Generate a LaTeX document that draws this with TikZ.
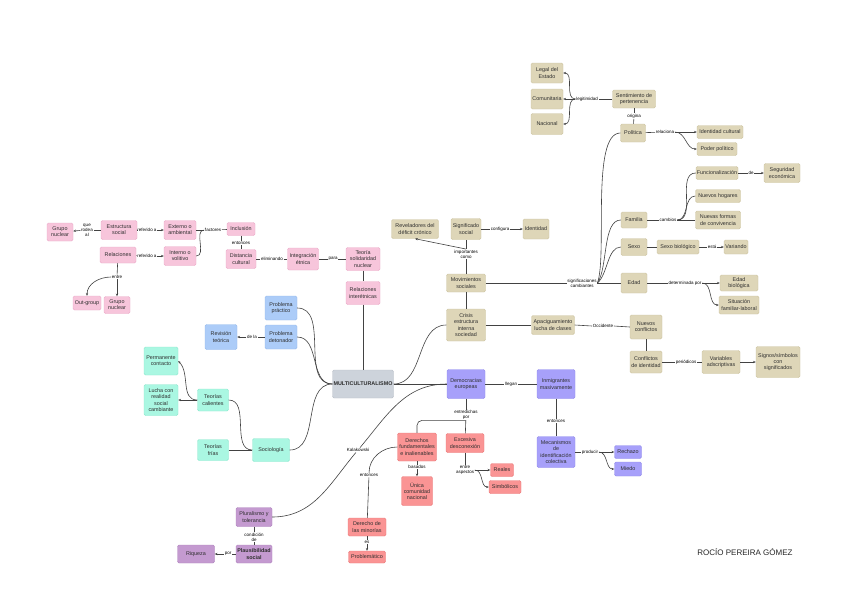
\documentclass[tikz,border=0pt]{standalone}
\usepackage{fontspec}
\setmainfont{Liberation Sans}
\usetikzlibrary{arrows.meta}
\definecolor{pinkF}{RGB}{247,197,219}\definecolor{pinkD}{RGB}{236,172,202}
\definecolor{tanF}{RGB}{222,214,184}\definecolor{tanD}{RGB}{206,197,162}
\definecolor{blueF}{RGB}{172,204,248}\definecolor{blueD}{RGB}{150,186,236}
\definecolor{mintF}{RGB}{170,247,226}\definecolor{mintD}{RGB}{140,232,206}
\definecolor{purF}{RGB}{167,160,250}\definecolor{purD}{RGB}{146,139,236}
\definecolor{redF}{RGB}{250,148,148}\definecolor{redD}{RGB}{236,122,122}
\definecolor{mauF}{RGB}{196,154,208}\definecolor{mauD}{RGB}{176,132,190}
\definecolor{grayF}{RGB}{205,211,219}\definecolor{grayD}{RGB}{186,192,201}
\definecolor{lineC}{RGB}{66,66,66}
\tikzset{
  box/.style={rounded corners=1.5pt, line width=0.4pt, align=center, inner sep=0.5pt,
    font=\fontsize{5.4}{6.2}\selectfont, text=black!82},
  wh/.style 2 args={minimum width=#1pt,minimum height=#2pt},
  pk/.style={box, fill=pinkF, draw=pinkD},
  tn/.style={box, fill=tanF, draw=tanD},
  bl/.style={box, fill=blueF, draw=blueD},
  mt/.style={box, fill=mintF, draw=mintD},
  pu/.style={box, fill=purF, draw=purD},
  rd/.style={box, fill=redF, draw=redD},
  mv/.style={box, fill=mauF, draw=mauD},
  gy/.style={box, fill=grayF, draw=grayD},
  lbl/.style={fill=white, inner sep=0.6pt, align=center, text=black,
    font=\fontsize{4.5}{5}\selectfont},
  con/.style={draw=lineC, line width=0.6pt},
  arr/.style={con, -{Stealth[length=2.8pt,width=2.3pt]}},
}
\begin{document}
\begin{tikzpicture}[x=1pt,y=-1pt]
\useasboundingbox[fill=white] (0,0) rectangle (848,606);

% ---------- pink ----------
\node[pk,wh={26}{18}] (gn1) at (60,232) {Grupo\\nuclear};
\node[pk,wh={36}{19}] (es) at (119,230) {Estructura\\social};
\node[pk,wh={32}{19}] (ex) at (180,230) {Externo o\\ambiental};
\node[pk,wh={36}{16}] (re) at (118,255) {Relaciones};
\node[pk,wh={32}{19}] (inv) at (180,256) {Interno o\\volitivo};
\node[pk,wh={28}{13}] (ic) at (241,229) {Inclusión};
\node[pk,wh={30}{19}] (dc) at (241,259) {Distancia\\cultural};
\node[pk,wh={31}{22}] (ie) at (303,259) {Integración\\étnica};
\node[pk,wh={34}{23}] (ts) at (363,259) {Teoría\\solidaridad\\nuclear};
\node[pk,wh={34}{23}] (ri) at (363,293) {Relaciones\\interétnicas};
\node[pk,wh={28}{14}] (og) at (87,303) {Out-group};
\node[pk,wh={26}{17}] (gn2) at (117,305) {Grupo\\nuclear};

\node[lbl] (l1) at (87,230) {que\\rodea\\al};
\node[lbl] (l2) at (147,230) {referido a};
\node[lbl] (l3) at (147,256) {referido a};
\node[lbl] (l4) at (213,230) {factores};
\node[lbl] (l5) at (241,243) {entonces};
\node[lbl] (l6) at (272,259) {eliminando};
\node[lbl] (l7) at (333,259) {para};
\node[lbl] (l8) at (117,277) {entre};

% ---------- gray ----------
\node[gy,wh={61}{28}] (mu) at (363,384) {\bfseries MULTICULTURALISMO};

% ---------- blue ----------
\node[bl,wh={32}{24}] (pp) at (281,308) {Problema\\práctico};
\node[bl,wh={32}{24}] (pd) at (281,337) {Problema\\detonador};
\node[bl,wh={32}{25}] (rt) at (221,337) {Revisión\\teórica};
\node[lbl] (l9) at (252,337) {de la};

% ---------- mint ----------
\node[mt,wh={34}{28}] (pc) at (161,361) {Permanente\\contacto};
\node[mt,wh={34}{31}] (lu) at (161,400) {Lucha con\\realidad\\social\\cambiante};
\node[mt,wh={31}{22}] (tc) at (213,400) {Teorías\\calientes};
\node[mt,wh={31}{21}] (tf) at (213,450) {Teorías\\frías};
\node[mt,wh={37}{23}] (so) at (271,450) {Sociología};

% ---------- tan ----------
\node[tn,wh={32}{20}] (le) at (547,73) {Legal del\\Estado};
\node[tn,wh={32}{20}] (cm) at (547,99) {Comunitaria};
\node[tn,wh={32}{21}] (na) at (547,124) {Nacional};
\node[tn,wh={43}{18}] (sp) at (634,99) {Sentimiento de\\pertenencia};
\node[tn,wh={25}{18}] (po) at (633,133) {Política};
\node[tn,wh={46}{13}] (icu) at (720,132) {Identidad cultural};
\node[tn,wh={40}{13}] (pop) at (717,149) {Poder político};
\node[lbl] (llg) at (587,99) {legitimidad};
\node[lbl] (lor) at (634,116) {origina};
\node[lbl] (lrl) at (665,132) {relaciona};

\node[tn,wh={42}{13}] (fu) at (717,173) {Funcionalización};
\node[tn,wh={36}{19}] (se) at (782,173) {Seguridad\\económica};
\node[lbl] (lde) at (751,173) {de};
\node[tn,wh={45}{13}] (nh) at (718,196) {Nuevos hogares};
\node[tn,wh={45}{18}] (nf) at (718,220) {Nuevas formas\\de convivencia};
\node[tn,wh={26}{16}] (fa) at (634,220) {Familia};
\node[lbl] (lca) at (668,220) {cambios};
\node[tn,wh={26}{17}] (sx) at (634,247) {Sexo};
\node[tn,wh={42}{14}] (sb) at (678,247) {Sexo biológico};
\node[lbl] (les) at (712,247) {está};
\node[tn,wh={24}{14}] (va) at (736,247) {Variando};
\node[tn,wh={26}{20}] (ed) at (634,283) {Edad};
\node[lbl] (ldp) at (685,283) {determinada por};
\node[tn,wh={38}{16}] (eb) at (739,283) {Edad\\biológica};
\node[tn,wh={40}{18}] (sf) at (739,305) {Situación\\familiar-laboral};

\node[tn,wh={47}{19}] (rv) at (415,229) {Reveladores del\\déficit crónico};
\node[tn,wh={30}{21}] (ss) at (466,229) {Significado\\social};
\node[tn,wh={26}{20}] (id) at (536,229) {Identidad};
\node[lbl] (lcf) at (500,229) {configura};
\node[lbl] (lic) at (466,254) {importantes\\como};
\node[tn,wh={39}{18}] (ms) at (466,283) {Movimientos\\sociales};
\node[lbl] (lsc) at (582,283) {significaciones\\cambiantes};
\node[tn,wh={39}{32}] (cr) at (466,325) {Crisis\\estructura\\interna\\sociedad};
\node[tn,wh={43}{19}] (ap) at (553,325) {Apaciguamiento\\lucha de clases};
\node[lbl] (loc) at (603,326) {Occidente};
\node[tn,wh={32}{24}] (nc) at (646,327) {Nuevos\\conflictos};
\node[tn,wh={32}{22}] (ci) at (646,362) {Conflictos\\de identidad};
\node[lbl] (lpe) at (686,362) {periódicos};
\node[tn,wh={38}{23}] (vd) at (721,362) {Variables\\adscriptivas};
\node[tn,wh={44}{31}] (sg) at (778,362) {Signos/símbolos\\con\\significados};

% ---------- purple ----------
\node[pu,wh={38}{29}] (de) at (466,384) {Democracias\\europeas};
\node[pu,wh={38}{29}] (im) at (556,384) {Inmigrantes\\masivamente};
\node[lbl] (lll) at (511,384) {llegan};
\node[lbl] (len) at (556,421) {entonces};
\node[pu,wh={38}{31}] (mc) at (556,452) {Mecanismos\\de\\identificación\\colectiva};
\node[lbl] (lpr) at (590,452) {producir};
\node[pu,wh={27}{13}] (rz) at (628,452) {Rechazo};
\node[pu,wh={27}{14}] (mi) at (628,469) {Miedo};

% ---------- red ----------
\node[lbl] (ledp) at (466,415) {entredichas\\por};
\node[rd,wh={39}{28}] (dr) at (417,447) {Derechos\\fundamentales\\e inalienables};
\node[rd,wh={38}{19}] (xd) at (465,443) {Excesiva\\desconexión};
\node[lbl] (lba) at (417,467) {basados};
\node[rd,wh={31}{29}] (uc) at (417,491) {Única\\comunidad\\nacional};
\node[lbl] (lea) at (465,470) {entre\\aspectos};
\node[rd,wh={23}{13}] (rl) at (502,470) {Reales};
\node[rd,wh={32}{13}] (sm) at (505,487) {Simbólicos};
\node[lbl] (lka) at (358,450) {Kalakowski};
\node[lbl] (len2) at (369,475) {entonces};
\node[rd,wh={38}{18}] (dm) at (367,527) {Derecho de\\las minorías};
\node[lbl] (les2) at (367,542) {es};
\node[rd,wh={37}{12}] (pb) at (367,557) {Problemático};

% ---------- mauve ----------
\node[mv,wh={36}{19}] (pt) at (254,517) {Pluralismo y\\tolerancia};
\node[lbl] (lcd) at (254,537) {condición\\de};
\node[mv,wh={36}{18}] (ps) at (254,554) {\bfseries Plausibilidad\\\bfseries social};
\node[lbl] (lpo) at (228,554) {por};
\node[mv,wh={37}{18}] (rq) at (196,554) {Riqueza};

\node[text=black!85, font=\fontsize{8}{9}\selectfont] (au) at (745,552) {ROCÍO PEREIRA GÓMEZ};

% ---------- connectors: pink ----------
\draw[con] (es) -- (l1); \draw[arr] (l1) -- (gn1);
\draw[con] (es) -- (l2); \draw[arr] (l2) -- (ex);
\draw[con] (re) -- (l3); \draw[arr] (l3) -- (inv);
\draw[con] (ex) -- (l4);
\draw[con] (inv.east) to[out=0,in=180] (l4.west);
\draw[con] (l4) -- (ic);
\draw[con] (ic) -- (l5); \draw[con] (l5) -- (dc);
\draw[con] (dc) -- (l6); \draw[con] (l6) -- (ie);
\draw[con] (ie) -- (l7); \draw[con] (l7) -- (ts);
\draw[con] (ts) -- (ri);
\draw[con] (ri) -- (mu);
\draw[con] (re) -- (l8); \draw[arr] (l8) -- (gn2);
\draw[arr] (l8.west) to[out=180,in=90] (og.north);

% ---------- blue / mint ----------
\draw[con] (pd) -- (l9); \draw[arr] (l9) -- (rt);
\draw[con] (pp.east) to[out=0,in=180] (mu.west);
\draw[con] (pd.east) to[out=0,in=180] (mu.west);
\draw[arr] (tc.west) -- (lu.east);
\draw[arr] (tc.west) to[out=180,in=-45] (pc.east);
\draw[con] (tc.east) to[out=0,in=180] (so.west);
\draw[con] (tf) -- (so);
\draw[con] (so.east) to[out=0,in=180] (mu.west);

% ---------- tan ----------
\draw[con] (sp) -- (llg);
\draw[arr] (llg.west) to[out=180,in=0] (le.east);
\draw[arr] (llg) -- (cm);
\draw[arr] (llg.west) to[out=180,in=0] (na.east);
\draw[con] (sp) -- (lor); \draw[con] (lor) -- (po);
\draw[con] (po) -- (lrl);
\draw[arr] (lrl) -- (icu);
\draw[arr] (lrl.east) to[out=0,in=180] (pop.west);

\draw[con] (ss) -- (lcf); \draw[arr] (lcf) -- (id);
\draw[con] (ms) -- (lic); \draw[con] (lic) -- (ss);
\draw[arr] (lic.north) -- (rv.south);
\draw[con] (ms) -- (lsc);
\draw[con] (lsc.east) to[out=70,in=180,looseness=0.5] (po.west);
\draw[con] (lsc.east) to[out=55,in=180,looseness=0.7] (fa.west);
\draw[con] (lsc.east) to[out=40,in=180,looseness=0.8] (sx.west);
\draw[con] (lsc.east) -- (ed.west);

\draw[con] (fa) -- (lca);
\draw[con] (lca.east) to[out=0,in=180] (fu.west);
\draw[con] (lca.east) to[out=0,in=180] (nh.west);
\draw[con] (lca.east) -- (nf.west);
\draw[con] (fu) -- (lde); \draw[arr] (lde) -- (se);
\draw[con] (sx) -- (sb); \draw[con] (sb) -- (les); \draw[arr] (les) -- (va);
\draw[con] (ed) -- (ldp); \draw[arr] (ldp) -- (eb);
\draw[arr] (ldp.east) to[out=0,in=180] (sf.west);

\draw[con] (ms) -- (cr);
\draw[con] (cr) -- (ap);
\draw[con] (ap.east) -- (loc.west); \draw[con] (loc.east) -- (nc.west);
\draw[con] (nc) -- (ci);
\draw[con] (ci) -- (lpe); \draw[con] (lpe) -- (vd);
\draw[arr] (vd) -- (sg);
\draw[con] (cr.west) to[out=180,in=0] (mu.east);

% ---------- purple ----------
\draw[con] (mu) -- (de);
\draw[con] (de) -- (lll); \draw[con] (lll) -- (im);
\draw[con] (im) -- (len); \draw[con] (len) -- (mc);
\draw[con] (mc) -- (lpr);
\draw[arr] (lpr) -- (rz);
\draw[arr] (lpr.east) to[out=0,in=180] (mi.west);

% ---------- red ----------
\draw[con] (de) -- (ledp);
\draw[con] (ledp) -- (xd);
\draw[con, rounded corners=5pt] (ledp.south) -| (dr.north);
\draw[con] (dr) -- (lba); \draw[arr] (lba) -- (uc);
\draw[con] (xd) -- (lea);
\draw[arr] (lea.east) -- (rl.west);
\draw[arr] (lea.east) to[out=0,in=180] (sm.west);
\draw[con] (de.west) to[out=180,in=50] (lka);
\draw[con] (lka) to[out=230,in=0] (pt.east);
\draw[con] (dr.west) to[out=180,in=90] (len2.north);
\draw[con] (len2) -- (dm);
\draw[con] (dm) -- (les2); \draw[arr] (les2) -- (pb);

% ---------- mauve ----------
\draw[con] (pt) -- (lcd); \draw[con] (lcd) -- (ps);
\draw[con] (ps) -- (lpo); \draw[arr] (lpo) -- (rq);
\end{tikzpicture}
\end{document}
